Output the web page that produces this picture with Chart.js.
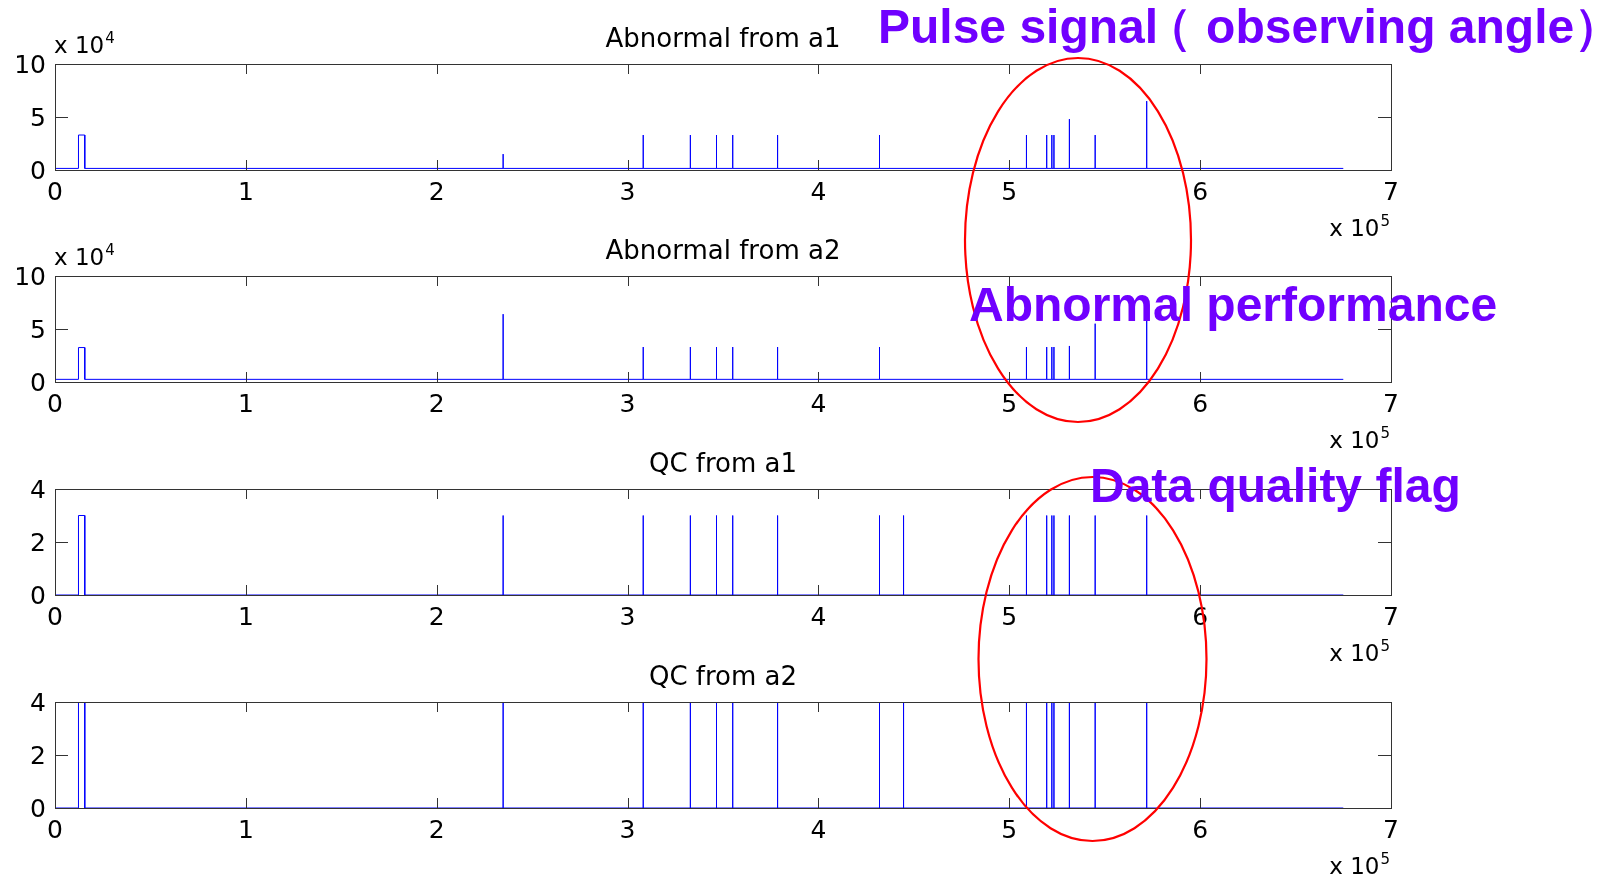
<!DOCTYPE html>
<html>
<head>
<meta charset="utf-8">
<title>Abnormal and QC flags</title>
<script src="https://cdn.jsdelivr.net/npm/chart.js@4.4.0/dist/chart.umd.min.js"></script>
<style>
  html, body { margin: 0; padding: 0; background: #fff; }
  body { width: 1612px; height: 878px; position: relative; overflow: hidden; }
  canvas.panel { position: absolute; left: 0; }
  svg.marks { position: absolute; left: 0; top: 0; }
  svg.marks text { font-family: "Liberation Sans", Arial, sans-serif; font-weight: bold; font-size: 48px; fill: #7000ff; }
</style>
</head>
<body>
<canvas id="abnA1" class="panel"></canvas>
<canvas id="abnA2" class="panel"></canvas>
<canvas id="qcA1" class="panel"></canvas>
<canvas id="qcA2" class="panel"></canvas>

<svg class="marks" width="1612" height="878">
  <ellipse cx="1078" cy="240" rx="113" ry="182" fill="none" stroke="#ff0000" stroke-width="2.2"/>
  <ellipse cx="1092.5" cy="659" rx="114" ry="182" fill="none" stroke="#ff0000" stroke-width="2.2"/>
  <text x="878" y="43">Pulse signal<tspan dx="-14">（</tspan><tspan dx="14">observing angle）</tspan></text>
  <text x="969" y="321">Abnormal performance</text>
  <text x="1090" y="502">Data quality flag</text>
</svg>

<script>
// sample index range of the record
const xMax = 700000;
const recordEnd = 675000;

// short block flagged at the start of the record
const pulseStart = 12300;
const pulseEnd = 15600;

// single-sample events along the record
const eventX = [234800, 308200, 332900, 346600, 355100, 378600, 432000, 444600,
                509000, 519600, 522300, 523400, 531500, 545000, 572000];

// peak value of each event per series (null = no event in that series)
const abnA1 = [15000, 33000, 33000, 33000, 33000, 33000, 33000, null,
               33000, 33000, 33000, 33000, 48000, 33000, 65000];
const abnA2 = [64000, 33000, 33000, 33000, 33000, 33000, 33000, null,
               33000, 33000, 33000, 33000, 34000, 55000, 64000];
const qcA1 = [3, 3, 3, 3, 3, 3, 3, 3, 3, 3, 3, 3, 3, 3, 3];
const qcA2 = [4, 4, 4, 4, 4, 4, 4, 4, 4, 4, 4, 4, 4, 4, 4];

// value of the start block and of the quiet level for each series
const pulseLevel = [33000, 32500, 3, 4];
const baseLevel = [1500, 2500, 0, 0];

const titles = ['Abnormal from a1', 'Abnormal from a2', 'QC from a1', 'QC from a2'];
const yMaxes = [100000, 100000, 4, 4];
const ySteps = [50000, 50000, 2, 2];
const yExps = [4, 4, 0, 0];
const xExp = 5;

// page layout of the four axes boxes
const boxTops = [64, 276, 489, 702];
const boxHeight = 106;
const titleBlock = 41;      // title line + gap above each box
const xAxisBlock = 70;      // tick labels + multiplier below each box
const titleSize = 26;
const tickSize = 25;

function buildTrace(base, pulse, peaks) {
  const pts = [
    { x: 0, y: base },
    { x: pulseStart, y: base }, { x: pulseStart, y: pulse },
    { x: pulseEnd, y: pulse }, { x: pulseEnd, y: base }
  ];
  eventX.forEach((x, i) => {
    if (peaks[i] == null) return;
    pts.push({ x: x, y: base }, { x: x, y: peaks[i] }, { x: x, y: base });
  });
  pts.push({ x: recordEnd, y: base });
  return pts;
}

// "x 10^n" multiplier label
function drawMultiplier(ctx, x, yMid, exp, alignRight) {
  const big = '23px "DejaVu Sans"';
  const small = '15px "DejaVu Sans"';
  const base = 'x 10';
  ctx.font = big;
  const bw = ctx.measureText(base).width;
  ctx.font = small;
  const sw = ctx.measureText(String(exp)).width;
  const left = alignRight ? x - bw - sw - 1 : x;
  ctx.fillStyle = '#000';
  ctx.textBaseline = 'alphabetic';
  ctx.textAlign = 'left';
  ctx.font = big;
  ctx.fillText(base, left, yMid + 8);
  ctx.font = small;
  ctx.fillText(String(exp), left + bw + 1, yMid - 2);
}

// box around the axes with inward ticks on all four sides
const boxFrame = {
  id: 'boxFrame',
  afterDraw(chart, args, opts) {
    const { ctx, chartArea: a, scales: { x, y } } = chart;
    ctx.save();
    ctx.strokeStyle = '#333';
    ctx.lineWidth = 1;
    ctx.beginPath();
    x.ticks.forEach(t => {
      const px = Math.round(x.getPixelForValue(t.value)) + 0.5;
      ctx.moveTo(px, a.bottom); ctx.lineTo(px, a.bottom - 10);
      ctx.moveTo(px, a.top); ctx.lineTo(px, a.top + 10);
    });
    y.ticks.forEach(t => {
      const py = Math.round(y.getPixelForValue(t.value)) + 0.5;
      ctx.moveTo(a.left, py); ctx.lineTo(a.left + 13, py);
      ctx.moveTo(a.right, py); ctx.lineTo(a.right - 13, py);
    });
    ctx.stroke();
    ctx.strokeRect(Math.round(a.left) + 0.5, Math.round(a.top) + 0.5,
                   Math.round(a.right - a.left), Math.round(a.bottom - a.top));
    if (opts.yExp) drawMultiplier(ctx, a.left - 1, a.top - 19, opts.yExp, false);
    drawMultiplier(ctx, a.right - 1, a.bottom + 58, opts.xExp, true);
    ctx.restore();
  }
};

const series = [abnA1, abnA2, qcA1, qcA2];
const canvasIds = ['abnA1', 'abnA2', 'qcA1', 'qcA2'];

canvasIds.forEach((id, i) => {
  const canvas = document.getElementById(id);
  canvas.width = 1612;
  canvas.height = titleBlock + boxHeight + xAxisBlock;
  canvas.style.top = (boxTops[i] - titleBlock) + 'px';

  const yScale = Math.pow(10, yExps[i]);
  const titleLine = titleSize * 1.2;

  new Chart(canvas.getContext('2d'), {
    type: 'line',
    data: {
      datasets: [{
        data: buildTrace(baseLevel[i], pulseLevel[i], series[i]),
        borderColor: '#0000ff',
        borderWidth: 1,
        pointRadius: 0,
        tension: 0,
        fill: false
      }]
    },
    options: {
      responsive: false,
      devicePixelRatio: 1,
      animation: false,
      events: [],
      layout: { padding: { left: 0, right: 221, top: 0, bottom: 0 } },
      plugins: {
        legend: { display: false },
        tooltip: { enabled: false },
        title: {
          display: true,
          text: titles[i],
          fullSize: false,
          color: '#000',
          font: { family: 'DejaVu Sans', size: titleSize, weight: 'normal', lineHeight: 1.2 },
          padding: { top: 1.2, bottom: titleBlock - titleLine - 1.2 }
        },
        boxFrame: { yExp: yExps[i], xExp: xExp }
      },
      scales: {
        x: {
          type: 'linear',
          min: 0,
          max: xMax,
          grid: { display: false, drawTicks: false },
          border: { display: false },
          ticks: {
            stepSize: 100000,
            maxRotation: 0,
            padding: 8,
            color: '#000',
            font: { family: 'DejaVu Sans', size: tickSize },
            callback: v => v / Math.pow(10, xExp)
          },
          afterFit: s => { s.height = xAxisBlock; }
        },
        y: {
          min: 0,
          max: yMaxes[i],
          grid: { display: false, drawTicks: false },
          border: { display: false },
          ticks: {
            stepSize: ySteps[i],
            padding: 9,
            labelOffset: 2,
            color: '#000',
            font: { family: 'DejaVu Sans', size: tickSize },
            callback: v => v / yScale
          },
          afterFit: s => { s.width = 55; }
        }
      }
    },
    plugins: [boxFrame]
  });
});
</script>
</body>
</html>
